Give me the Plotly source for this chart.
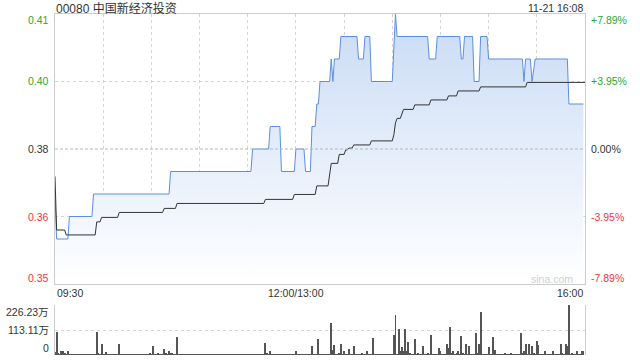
import plotly.graph_objects as go

# ---------------- data ----------------
stock_title = "00080 中国新经济投资"
stamp = "11-21 16:08"
prev_close = 0.38

# price path: (minute since 09:30 on the trading clock, price)
price_steps = [(0, 0.37), (1, 0.36), (8, 0.36), (9, 0.365), (23, 0.365), (24, 0.37),
               (71, 0.37), (72, 0.375), (122, 0.375), (123, 0.38), (133, 0.38), (134, 0.385),
               (140, 0.385), (141, 0.375), (149, 0.375), (150, 0.38), (155, 0.38), (156, 0.375),
               (159, 0.375), (160, 0.385), (162, 0.385), (163, 0.39), (164, 0.39), (165, 0.395),
               (171, 0.395), (172, 0.40), (173, 0.395), (174, 0.40), (177, 0.40), (178, 0.405),
               (188, 0.405), (189, 0.40), (192, 0.40), (193, 0.405), (196, 0.405), (197, 0.395),
               (210, 0.395), (212, 0.41), (213, 0.405), (232, 0.405), (233, 0.40), (237, 0.40),
               (238, 0.405), (252, 0.405), (253, 0.40), (254, 0.40), (255, 0.405), (260, 0.405),
               (261, 0.395), (264, 0.395), (265, 0.405), (269, 0.405), (270, 0.40), (291, 0.40),
               (292, 0.395), (293, 0.40), (296, 0.40), (297, 0.395), (299, 0.40), (319, 0.40),
               (320, 0.39), (329, 0.39)]

# average price path
avg_steps = [(0, 0.3739), (1, 0.362), (6, 0.362), (7, 0.3609), (25, 0.3609), (26, 0.3638),
             (28, 0.3638), (29, 0.3648), (39, 0.3648), (40, 0.3659), (67, 0.3659), (68, 0.3668),
             (75, 0.3668), (76, 0.3679), (130, 0.3679), (131, 0.3688), (148, 0.3688), (149, 0.3699),
             (162, 0.3699), (163, 0.3718), (170, 0.3718), (172, 0.3768), (176, 0.3768), (177, 0.3788),
             (180, 0.3788), (181, 0.3798), (182, 0.3798), (183, 0.3802), (185, 0.3802), (186, 0.3809),
             (196, 0.3809), (197, 0.3818), (210, 0.3818), (211, 0.3832), (212, 0.3858), (213, 0.3868),
             (215, 0.3868), (217, 0.3888), (223, 0.3888), (224, 0.3898), (233, 0.3898), (234, 0.3909),
             (244, 0.3909), (245, 0.3918), (250, 0.3918), (251, 0.3929), (264, 0.3929), (265, 0.3938),
             (293, 0.3938), (294, 0.3948), (330, 0.3948)]

# per-minute volume (万), one row per half hour
volume = [
    15, 105, 5, 3, 18, 18, 6, 3, 16, 4, 2, 3, 1, 2, 3, 2, 1, 3, 2, 2, 1, 3, 2, 4, 2, 3, 105, 6, 2, 51,
    3, 2, 12, 3, 2, 2, 3, 1, 2, 3, 51, 3, 2, 2, 3, 1, 2, 2, 3, 2, 1, 2, 3, 2, 2, 1, 3, 2, 2, 10,
    2, 41, 4, 3, 5, 2, 4, 2, 27, 5, 2, 20, 6, 5, 3, 2, 83, 2, 2, 1, 2, 2, 1, 2, 2, 1, 2, 2, 1, 2,
    2, 1, 2, 2, 1, 2, 2, 1, 2, 2, 1, 2, 2, 1, 2, 2, 1, 2, 2, 1, 2, 2, 1, 2, 2, 1, 2, 2, 1, 2,
    2, 1, 2, 2, 1, 2, 2, 1, 2, 2, 1, 56, 5, 2, 20, 2, 1, 2, 2, 1, 2, 2, 1, 2, 2, 1, 2, 2, 1, 2,
    18, 2, 1, 2, 2, 1, 2, 2, 1, 2, 42, 3, 2, 2, 74, 3, 2, 3, 2, 2, 3, 4, 146, 22, 45, 4, 3, 5, 50, 3,
    18, 4, 3, 27, 4, 3, 41, 2, 3, 2, 3, 10, 3, 2, 18, 4, 3, 2, 77, 3, 2, 2, 3, 2, 2, 3, 2, 2, 3, 2,
    3, 90, 181, 4, 116, 18, 38, 18, 116, 20, 59, 5, 3, 4, 72, 3, 5, 3, 4, 41, 3, 4, 10, 3, 92, 2, 3, 2, 4, 33,
    18, 3, 2, 4, 51, 33, 128, 8, 18, 3, 5, 18, 3, 87, 8, 3, 51, 4, 42, 3, 2, 3, 101, 5, 51, 196, 3, 4, 2, 3,
    38, 4, 3, 83, 22, 3, 2, 2, 3, 2, 5, 2, 3, 2, 5, 2, 3, 2, 3, 2, 101, 5, 18, 51, 3, 51, 4, 42, 5, 3,
    65, 45, 3, 4, 2, 18, 3, 2, 2, 3, 18, 4, 2, 3, 4, 51, 5, 4, 51, 41, 226.23, 3, 5, 2, 4, 18, 3, 4, 18, 18,
]
vol_max = 226.23
vol_ticks = [113.115, 226.23]
vol_labels = ["113.11万", "226.23万"]

price_ticks = [0.41, 0.395, 0.38, 0.365, 0.35]
price_labels = ["0.41", "0.40", "0.38", "0.36", "0.35"]
pct_labels = ["+7.89%", "+3.95%", "0.00%", "-3.95%", "-7.89%"]
time_grid = [0, 30, 60, 90, 120, 150, 180, 210, 240, 270, 300, 330]
time_labels = [(0, "09:30", "left"), (150, "12:00/13:00", "center"), (330, "16:00", "right")]

# ---------------- figure ----------------
W, H = 640, 360
FONT = "Liberation Sans, Arial, Noto Sans CJK SC, sans-serif"
GREEN, RED, DARK = "#2ea52e", "#f03535", "#333333"
x0, x1 = 55 / W, 585 / W
py0, py1 = (H - 284) / H, (H - 14) / H
vy0, vy1 = (H - 355) / H, (H - 305) / H

pt = [s[0] for s in price_steps]
pv = [s[1] for s in price_steps]
at = [s[0] for s in avg_steps]
av = [s[1] for s in avg_steps]

fig = go.Figure()
fig.add_trace(go.Scatter(
    x=pt, y=pv, mode="lines", line=dict(color="#5b8fe3", width=1),
    fill="tozeroy",
    fillgradient=dict(type="vertical", start=0.35, stop=0.41,
                      colorscale=[[0, "#ffffff"], [1, "#c9dbf5"]]),
    xaxis="x", yaxis="y", hoverinfo="skip"))
fig.add_trace(go.Scatter(
    x=at, y=av, mode="lines", line=dict(color="#333333", width=1),
    xaxis="x", yaxis="y", hoverinfo="skip"))
fig.add_trace(go.Bar(
    x=list(range(len(volume))), y=volume, width=0.6,
    marker=dict(color="#555555", line=dict(width=0)),
    xaxis="x2", yaxis="y3", hoverinfo="skip"))

grid = dict(showgrid=True, gridcolor="#d4d4d4", griddash="dot", gridwidth=1)
fig.update_layout(
    width=W, height=H, margin=dict(l=0, r=0, t=0, b=0),
    paper_bgcolor="white", plot_bgcolor="white", showlegend=False,
    font=dict(family=FONT, size=11, color=DARK),
    bargap=0,
    xaxis=dict(domain=[x0, x1], range=[0, 330], tickvals=time_grid, showticklabels=False,
               ticks="", zeroline=False, showline=True, linecolor="#cccccc", mirror=True,
               anchor="y", **grid),
    yaxis=dict(domain=[py0, py1], range=[0.35, 0.41], tickvals=[0.365, 0.395],
               showticklabels=False, ticks="", zeroline=False, showline=True,
               linecolor="#cccccc", mirror=True, anchor="x", **grid),
    xaxis2=dict(domain=[x0, x1], range=[0, 330], showticklabels=False, ticks="",
                showgrid=False, zeroline=False, showline=False, anchor="y3"),
    yaxis3=dict(domain=[vy0, vy1], range=[0, vol_max], tickvals=vol_ticks,
                showticklabels=False, ticks="", zeroline=False, showline=True,
                linecolor="#cccccc", mirror=True, anchor="x2", **grid),
)

# previous close dashed line
fig.add_shape(type="line", xref="x domain", yref="y", x0=0, x1=1, y0=prev_close, y1=prev_close,
              line=dict(color="#b5b5b5", width=1, dash="3px,2px"))

ann = []
LS = 10.5
for i, (v, lab, pct) in enumerate(zip(price_ticks, price_labels, pct_labels)):
    col = GREEN if v > prev_close + 1e-9 else (RED if v < prev_close - 1e-9 else DARK)
    ys = -6 if i == 0 else (6 if i == len(price_ticks) - 1 else 0)
    ann.append(dict(xref="paper", yref="y", x=51 / W, y=v, xanchor="right", yanchor="middle",
                    text=lab, showarrow=False, yshift=ys, font=dict(size=LS, color=col)))
    ann.append(dict(xref="paper", yref="y", x=589 / W, y=v, xanchor="left", yanchor="middle",
                    text=pct, showarrow=False, yshift=ys, font=dict(size=LS, color=col)))

for t, lab, anc in time_labels:
    ann.append(dict(xref="x", yref="paper", x=t, y=(H - 293) / H, xanchor=anc, yanchor="middle",
                    text=lab, showarrow=False, font=dict(size=LS, color=DARK)))

for v, lab in zip([0] + vol_ticks, ["0"] + vol_labels):
    ys = 7 if v == 0 else (-7 if v == vol_max else 0)
    ann.append(dict(xref="paper", yref="y3", x=51 / W, y=v, xanchor="right", yanchor="middle",
                    text=lab, showarrow=False, yshift=ys, font=dict(size=LS, color=DARK)))

ann.append(dict(xref="paper", yref="paper", x=x0, y=(H - 8) / H, xanchor="left", yanchor="middle",
                text=stock_title, showarrow=False, xshift=-1, font=dict(size=12, color=DARK)))
ann.append(dict(xref="paper", yref="paper", x=x1, y=(H - 8) / H, xanchor="right", yanchor="middle",
                text=stamp, showarrow=False, font=dict(size=LS, color=DARK)))
ann.append(dict(xref="paper", yref="paper", x=552 / W, y=(H - 279) / H, xanchor="center",
                yanchor="middle", text="sina.com", showarrow=False,
                font=dict(size=LS, color="#cfcfcf")))
fig.update_layout(annotations=ann)

fig.write_html("out.html")
